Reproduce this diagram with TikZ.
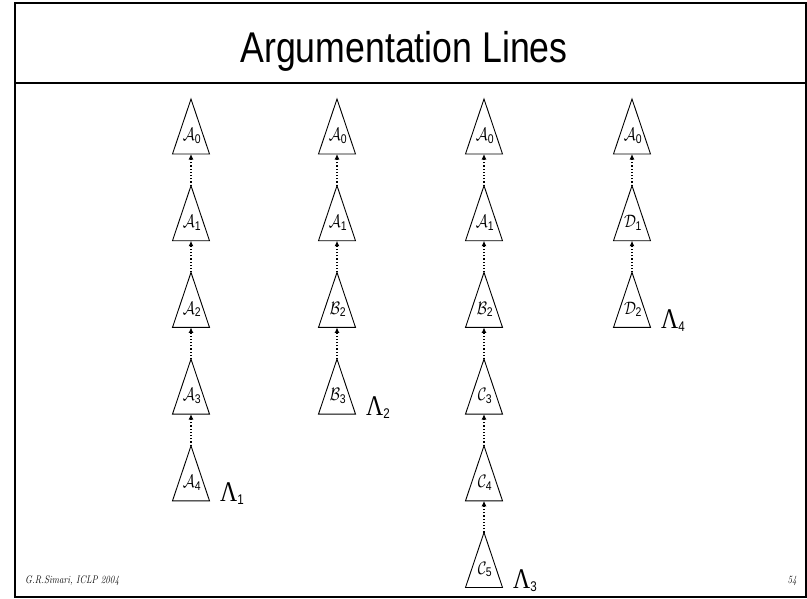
\RequirePackage{fix-cm}
\documentclass[tikz,border=0pt]{standalone}
\usepackage{amsmath}
\usepackage{fontspec}
\setsansfont{Liberation Sans}
\newfontfamily\timesf{Liberation Serif}
\usepackage{graphicx}
\usetikzlibrary{arrows.meta,calc}

\newcommand{\narrow}[1]{\scalebox{0.83}[1]{#1}}
% triangle for one argument: name, x, row, letter, index
\newcommand{\argtri}[5]{%
  \coordinate (#1-top) at (#2,{99+86.7*#3});
  \coordinate (#1-bot) at ($(#1-top)+(0,55)$);
  \draw[tri] (#1-top) -- ++(-18.5,55) -- ++(37,0) -- cycle;
  \node[lbl] (#1) at ($(#1-top)+(1,37)$) {\narrow{$\mathcal{#4}_{\textsf{#5}}$}};
}

\begin{document}
\begin{tikzpicture}[x=1pt,y=-1pt,
        frame/.style={line width=2pt},
        tri/.style={line width=0.9pt, line join=miter},
        lbl/.style={inner sep=0pt, font=\fontsize{18}{18}\selectfont},
        link/.style={dotted, line width=1.2pt, -{Latex[length=5.5pt,width=5pt]}},
        lam/.style={anchor=base west, inner sep=0pt, font=\fontsize{28.5}{30}\selectfont\timesf},
        foot/.style={inner sep=0pt, font=\fontsize{11}{11}\selectfont\itshape}
    ]
        \useasboundingbox (0,0) rectangle (807,598);

        % Slide frame and title
        \draw[frame] (15,3) rectangle (805.5,596.5);
        \draw[frame] (15,83) -- (805.5,83);
        \node[anchor=base, inner sep=0pt, font=\fontsize{43}{43}\selectfont\sffamily] (title) at (404,62) {\narrow{Argumentation Lines}};

        % Line 1
        \argtri{la0}{191}{0}{A}{0}
        \argtri{la1}{191}{1}{A}{1}
        \argtri{la2}{191}{2}{A}{2}
        \argtri{la3}{191}{3}{A}{3}
        \argtri{la4}{191}{4}{A}{4}
        \draw[link] (la1-top) -- (la0-bot);
        \draw[link] (la2-top) -- (la1-bot);
        \draw[link] (la3-top) -- (la2-bot);
        \draw[link] (la4-top) -- (la3-bot);
        \node[lam] (lam1) at ($(la4-bot)+(29,1)$) {\narrow{Λ}\raisebox{-3pt}{\fontsize{14}{14}\sffamily\narrow{1}}};

        % Line 2
        \argtri{lb0}{337}{0}{A}{0}
        \argtri{lb1}{337}{1}{A}{1}
        \argtri{lb2}{337}{2}{B}{2}
        \argtri{lb3}{337}{3}{B}{3}
        \draw[link] (lb1-top) -- (lb0-bot);
        \draw[link] (lb2-top) -- (lb1-bot);
        \draw[link] (lb3-top) -- (lb2-bot);
        \node[lam] (lam2) at ($(lb3-bot)+(29,1)$) {\narrow{Λ}\raisebox{-3pt}{\fontsize{14}{14}\sffamily\narrow{2}}};

        % Line 3
        \argtri{lc0}{484}{0}{A}{0}
        \argtri{lc1}{484}{1}{A}{1}
        \argtri{lc2}{484}{2}{B}{2}
        \argtri{lc3}{484}{3}{C}{3}
        \argtri{lc4}{484}{4}{C}{4}
        \argtri{lc5}{484}{5}{C}{5}
        \draw[link] (lc1-top) -- (lc0-bot);
        \draw[link] (lc2-top) -- (lc1-bot);
        \draw[link] (lc3-top) -- (lc2-bot);
        \draw[link] (lc4-top) -- (lc3-bot);
        \draw[link] (lc5-top) -- (lc4-bot);
        \node[lam] (lam3) at ($(lc5-bot)+(29,1)$) {\narrow{Λ}\raisebox{-3pt}{\fontsize{14}{14}\sffamily\narrow{3}}};

        % Line 4
        \argtri{ld0}{632}{0}{A}{0}
        \argtri{ld1}{632}{1}{D}{1}
        \argtri{ld2}{632}{2}{D}{2}
        \draw[link] (ld1-top) -- (ld0-bot);
        \draw[link] (ld2-top) -- (ld1-bot);
        \node[lam] (lam4) at ($(ld2-bot)+(29,1)$) {\narrow{Λ}\raisebox{-3pt}{\fontsize{14}{14}\sffamily\narrow{4}}};

        % Footer
        \node[foot, anchor=base west] (author) at (25,583) {\narrow{G.R.Simari, ICLP 2004}};
        \node[foot, anchor=base east] (page) at (797,583) {\narrow{54}};
    \end{tikzpicture}
\end{document}
